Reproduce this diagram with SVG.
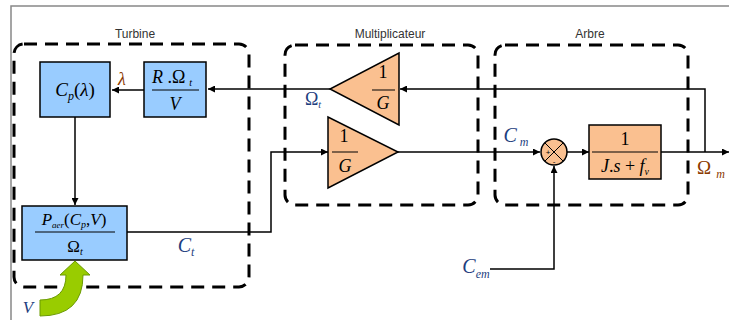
<svg xmlns="http://www.w3.org/2000/svg" width="729" height="320" viewBox="0 0 729 320">
<defs>
<marker id="arr" viewBox="0 0 10 10" refX="10" refY="5" markerWidth="7" markerHeight="7" markerUnits="userSpaceOnUse" orient="auto"><path d="M0,0 L10,5 L0,10 Z" fill="#000"/></marker>
<style>
.frame{fill:none;stroke:#888;stroke-width:1.5}
.grp{fill:none;stroke:#000;stroke-width:3;stroke-dasharray:13,8}
.glabel{font-family:"Liberation Sans",Arial,sans-serif;font-size:12px;fill:#333;text-anchor:middle}
.blue{fill:#99CCFF;stroke:#000;stroke-width:1.5}
.orange{fill:#FAC090;stroke:#000;stroke-width:1.5}
.m{font-family:"Liberation Serif","Times New Roman",serif;font-style:italic;fill:#000;text-anchor:middle}
.up{font-style:normal}
.line{fill:none;stroke:#000;stroke-width:1.5}
.frac{stroke:#000;stroke-width:1}
.db{fill:#1F3F7F}
.br{fill:#8B3A00}
</style>
</defs>
<rect width="729" height="320" fill="#fff"/>
<path class="frame" d="M11,320 L11,6 L729,6"/>

<g id="turbine">
<rect class="grp" x="14" y="44" width="235" height="243" rx="10"/>
<text class="glabel" x="135" y="38">Turbine</text>
</g>
<g id="multiplicateur">
<rect class="grp" x="285" y="45" width="193" height="160" rx="10"/>
<text class="glabel" x="390" y="38">Multiplicateur</text>
</g>
<g id="arbre">
<rect class="grp" x="495" y="45" width="193" height="160" rx="10"/>
<text class="glabel" x="590" y="38">Arbre</text>
</g>

<g id="connectors">
<path class="line" d="M144,90 L112,90" marker-end="url(#arr)"/>
<path class="line" d="M75,117 L75,205" marker-end="url(#arr)"/>
<path class="line" d="M330,89 L208,89" marker-end="url(#arr)"/>
<path class="line" d="M705,152 L705,89 L400,89" marker-end="url(#arr)"/>
<path class="line" d="M127,232 L271,232 L271,152 L328,152" marker-end="url(#arr)"/>
<path class="line" d="M398,152 L540,152" marker-end="url(#arr)"/>
<path class="line" d="M567,152 L589,152" marker-end="url(#arr)"/>
<path class="line" d="M661,152 L729,152" marker-end="url(#arr)"/>
<path class="line" d="M490,269 L554,269 L554,166" marker-end="url(#arr)"/>
</g>

<g id="cp">
<rect class="blue" x="40" y="62" width="70" height="55"/>
<text class="m" x="75" y="96" font-size="19">C<tspan font-size="12" dy="4">p</tspan><tspan dy="-4" class="up">(</tspan>λ<tspan class="up">)</tspan></text>
</g>
<text class="m br" x="122" y="85" font-size="18">λ</text>

<g id="ratio">
<rect class="blue" x="144" y="62" width="62" height="55"/>
<text class="m" x="172" y="83" font-size="18">R <tspan class="up">.Ω</tspan><tspan font-size="10" dx="4" dy="3">t</tspan></text>
<line class="frac" x1="152" y1="90" x2="199" y2="90"/>
<text class="m" x="175" y="110" font-size="18">V</text>
</g>

<g id="paer">
<rect class="blue" x="22" y="206" width="105" height="54"/>
<text class="m" x="74" y="225" font-size="17">P<tspan font-size="9" dy="3">aer</tspan><tspan dy="-3" class="up">(</tspan>C<tspan font-size="10" dy="3">p</tspan><tspan dy="-3" class="up">,</tspan>V<tspan class="up">)</tspan></text>
<line class="frac" x1="35" y1="232" x2="115" y2="232"/>
<text class="m up" x="75" y="252" font-size="17" font-style="normal">Ω<tspan font-size="10" dy="3" font-style="italic">t</tspan></text>
</g>
<text class="m db" x="186" y="252" font-size="20">C<tspan font-size="12" dy="4">t</tspan></text>

<g id="vin">
<path d="M40,300 Q66,300 66,275 L60,275 L75,261 L90,275 L83,275 Q83,316 40,316 Z" fill="#99CC00" stroke="#6A9A00" stroke-width="1"/>
<text class="m db" x="28" y="313" font-size="17">V</text>
</g>

<g id="gain1">
<path class="orange" d="M399,53 L399,125 L330,89 Z"/>
<text class="m up" x="383" y="78" font-size="18" font-style="normal">1</text>
<line class="frac" x1="372" y1="90" x2="395" y2="90"/>
<text class="m" x="383" y="109" font-size="18">G</text>
</g>
<text class="m up db" x="313" y="105" font-size="18" font-style="normal">Ω<tspan font-size="10" dy="3" font-style="italic">t</tspan></text>

<g id="gain2">
<path class="orange" d="M328,117 L328,188 L398,152 Z"/>
<text class="m up" x="344" y="142" font-size="18" font-style="normal">1</text>
<line class="frac" x1="332" y1="152" x2="358" y2="152"/>
<text class="m" x="345" y="172" font-size="18">G</text>
</g>

<text class="m db" x="516" y="142" font-size="20">C<tspan font-size="12" dx="3" dy="4">m</tspan></text>

<g id="sum">
<circle class="orange" cx="554" cy="152" r="13"/>
<path class="frac" d="M545,143 L563,161 M563,143 L545,161"/>
<text x="548" y="155" font-family="Liberation Sans,Arial,sans-serif" font-size="8" text-anchor="middle">+</text>
<text x="554" y="164" font-family="Liberation Sans,Arial,sans-serif" font-size="8" text-anchor="middle">-</text>
</g>

<g id="shaft">
<rect class="orange" x="589" y="125" width="72" height="54"/>
<text class="m up" x="625" y="145" font-size="18" font-style="normal">1</text>
<line class="frac" x1="592" y1="152" x2="658" y2="152"/>
<text class="m" x="625" y="172" font-size="18">J<tspan class="up">.</tspan>s <tspan class="up">+</tspan> f<tspan font-size="10" dy="3">v</tspan></text>
</g>

<text class="m up br" x="711" y="174" font-size="19" font-style="normal">Ω<tspan font-size="12" dx="5" dy="4" font-style="italic">m</tspan></text>
<text class="m db" x="476" y="273" font-size="20">C<tspan font-size="12" dy="5">em</tspan></text>
</svg>
